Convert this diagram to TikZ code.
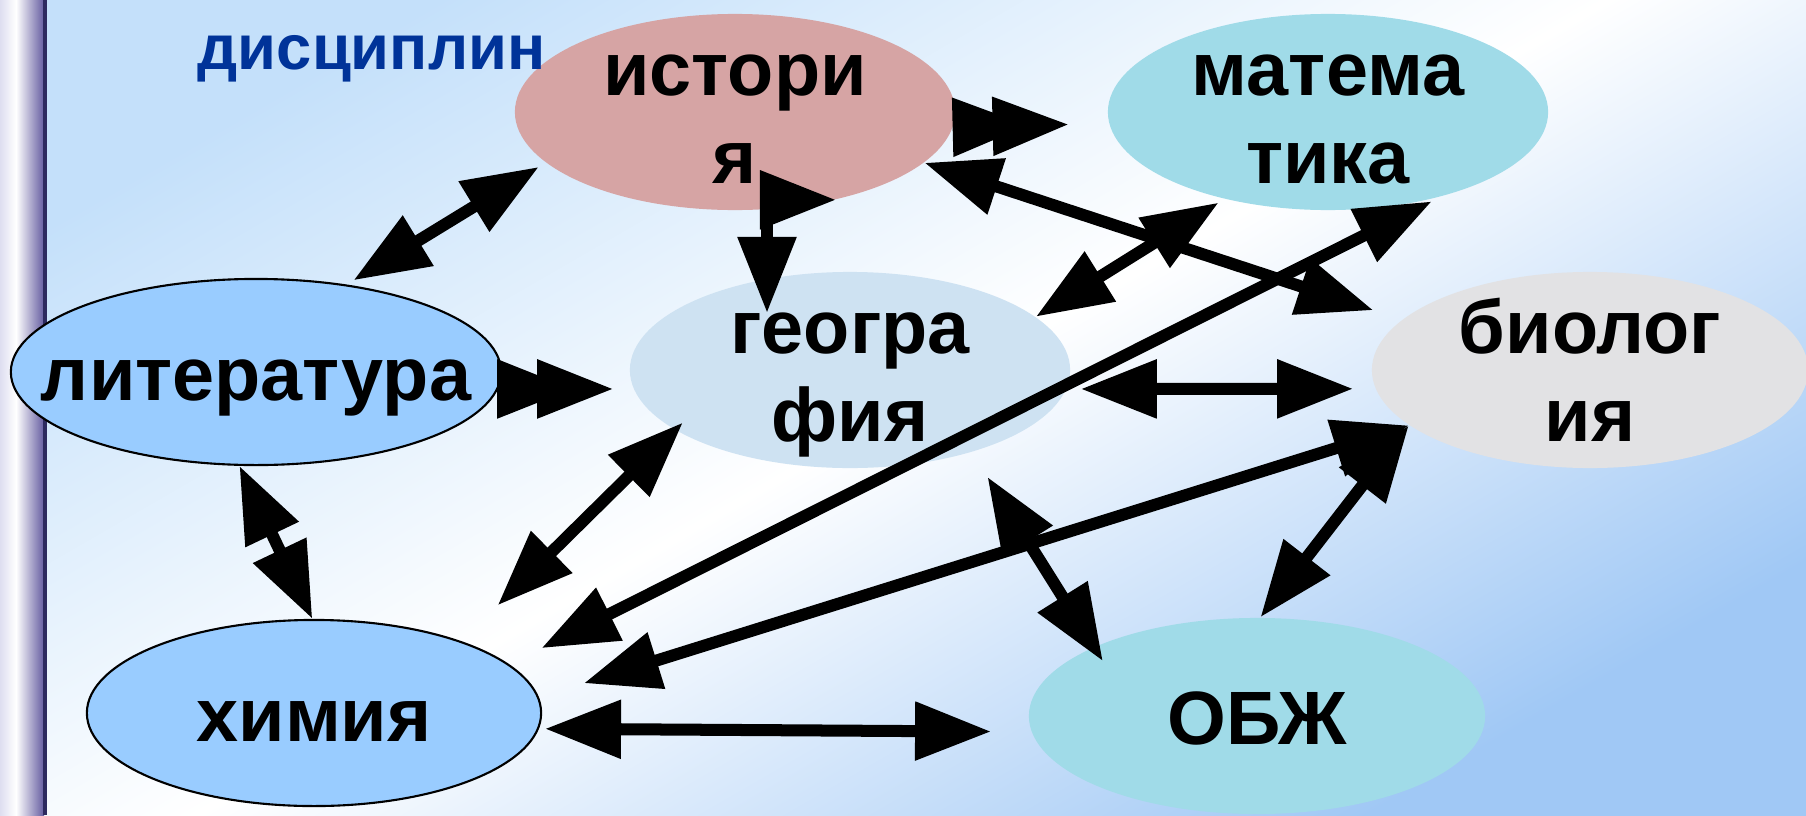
\documentclass[tikz,border=0pt]{standalone}
\usepackage{fontspec}
\setmainfont{Liberation Sans}
\usetikzlibrary{calc,positioning,arrows.meta,shapes}

\definecolor{histc}{RGB}{214,164,164}
\definecolor{waterc}{RGB}{160,219,232}
\definecolor{geoc}{RGB}{206,226,242}
\definecolor{bioc}{RGB}{226,226,228}
\definecolor{skyc}{RGB}{153,204,255}
\definecolor{titlec}{RGB}{0,51,153}
\definecolor{bgtl}{RGB}{196,224,250}
\definecolor{bgbr}{RGB}{160,200,245}
\definecolor{barl}{RGB}{222,222,240}
\definecolor{barr}{RGB}{100,92,160}
\definecolor{bard}{RGB}{45,42,95}

\tikzset{bigtip/.tip={Triangle[length=7.6mm,width=5.6mm]}}

\begin{document}
\begin{tikzpicture}[x=0.01cm,y=-0.01cm,
  sub/.style={ellipse,inner sep=0pt,minimum width=4.4cm,minimum height=1.96cm},
  txt/.style={font=\fontsize{21.5}{25}\selectfont\bfseries,align=center,text height=16pt,text depth=0pt,inner sep=0pt},
  txtt/.style={txt,yshift=-12.2pt},
  big/.style={line width=1.2mm,bigtip-bigtip},
  dbl/.style={line width=1.2mm,-{bigtip[sep=-3.6mm]bigtip}}]
  \useasboundingbox (0,0) rectangle (1806,815);
  \shade[top color=bgtl,bottom color=bgbr,middle color=white,shading angle=30] (0,0) rectangle (1806,815);
  \shade[left color=barl,right color=white] (0,0) rectangle (16,815);
  \shade[left color=white,right color=barr] (16,0) rectangle (44,815);
  \fill[bard] (43,0) rectangle (47,815);

  \node[sub,fill=histc] (ist) at (735,112) {};
  \node[sub,fill=waterc] (mat) at (1328,112) {};
  \node[sub,fill=skyc,draw,line width=0.6pt,minimum width=4.9cm,minimum height=1.86cm] (lit) at (256,372) {};
  \node[sub,fill=geoc] (geo) at (850,370) {};
  \node[sub,fill=bioc,minimum width=4.36cm] (bio) at (1590,370) {};
  \node[sub,fill=skyc,draw,line width=0.6pt,minimum width=4.54cm,minimum height=1.86cm] (him) at (314,713) {};
  \node[sub,fill=waterc,minimum width=4.56cm] (obz) at (1257,716) {};

  \node[txtt] (ist-t) at (ist) {истори\\я};
  \node[txtt] (mat-t) at (mat) {матема\\тика};
  \node[txt] (lit-t) at (lit) {литература};
  \node[txtt] (geo-t) at (geo) {геогра\\фия};
  \node[txtt] (bio-t) at (bio) {биолог\\ия};
  \node[txt] (him-t) at (him) {химия};
  \node[txt] (obz-t) at (obz) {ОБЖ};
  \node[font=\fontsize{18}{22}\selectfont\bfseries,text=titlec,anchor=base west,inner sep=0pt] (title) at (197,70) {дисциплин};

  \draw[big,shorten <=0.8mm,shorten >=0.8mm] (lit.44) -- (ist.195);
  \draw[dbl,shorten >=4mm] (ist.-4) -- (mat.183.5);
  \draw[dbl,shorten >=2mm] (lit.-4.8) -- (geo.185.3);
  \draw[big] (ist.-41) -| ($(geo)+(-83,-57)$);
  \draw[big,shorten <=0.65mm] (mat.220.4) -- (geo.16.7);
  \draw[big,shorten >=3mm] (ist.-15.4) -- (bio.165.9);
  \draw[big,shorten <=3.6mm,shorten >=1mm] (him.14.3) -- (mat.-37.6);
  \draw[big,shorten <=1.4mm,shorten >=2.2mm] (geo.-5.9) -- (bio.185.9);
  \draw[big] (lit.260) -- (him.91.2);
  \draw[big,shorten <=-1.1mm,shorten >=5.1mm] (geo.199.8) -- (him.26.6);
  \draw[big,shorten >=4.7mm] (bio.197.8) -- (him.4.2);
  \draw[big,shorten <=2.9mm,shorten >=-1.7mm] (geo.-34.1) -- (obz.157.9);
  \draw[big] (bio.197.8) -- (obz.88.2);
  \draw[big,shorten <=0.6mm,shorten >=4mm] (him.-4.9) -- (obz.184.1);
\end{tikzpicture}
\end{document}
